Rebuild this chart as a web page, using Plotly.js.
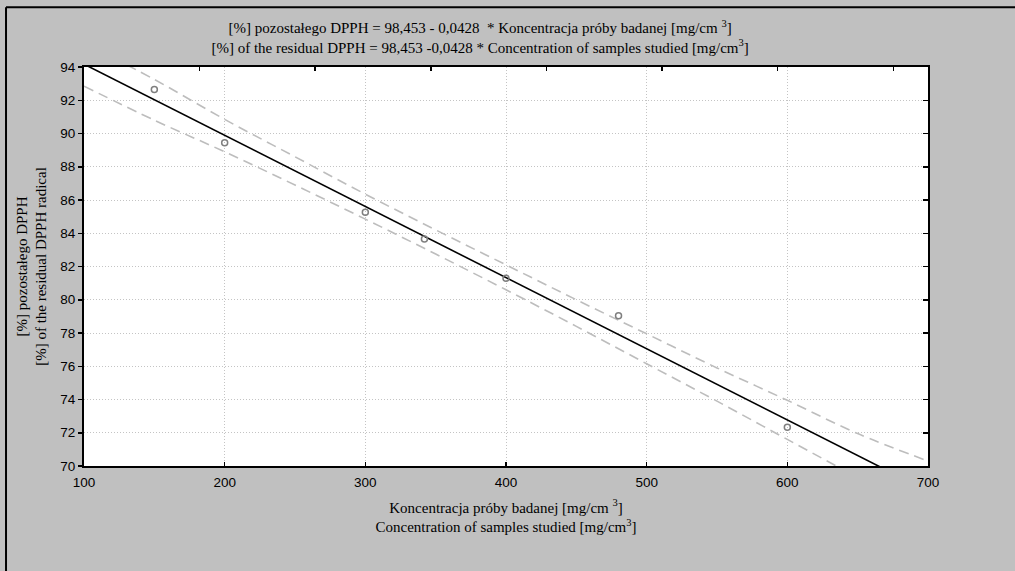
<!DOCTYPE html>
<html>
<head>
<meta charset="utf-8">
<script src="https://cdn.plot.ly/plotly-3.0.1.min.js"></script>
<style>html,body{margin:0;padding:0;background:#c0c0c0;}#chart{width:1015px;height:571px;}</style>
</head>
<body>
<div id="chart"></div>
<script>
// Observed data points
var concentration = [150, 200, 300, 342, 400, 480, 600];
var residualDPPH = [92.65, 89.44, 85.27, 83.65, 81.29, 79.04, 72.33];

// Regression line endpoints: y = 98.453 - 0.0428 x
var fitX = [100, 700];
var fitY = [94.17, 68.49];

// Confidence bands
var bandX = [100, 150, 200, 250, 300, 350, 400, 450, 500, 550, 600, 650, 700];
var bandUpper = [95.45, 93.25, 90.85, 88.6, 86.35, 84.2, 82.1, 80.0, 77.95, 75.9, 73.95, 71.95, 70.3];
var bandLower = [92.85, 90.8, 88.9, 86.9, 84.85, 82.75, 80.6, 78.4, 76.15, 73.9, 71.6, 69.3, 67.0];

var xTicks = [100, 200, 300, 400, 500, 600, 700];
var yTicks = [70, 72, 74, 76, 78, 80, 82, 84, 86, 88, 90, 92, 94];

var serif = 'Liberation Serif, Times New Roman, serif';
var sans = 'Liberation Sans, Arial, sans-serif';

var traces = [
  {x: bandX, y: bandUpper, mode: 'lines', line: {color: '#bdbdbd', width: 1.6, dash: '10px,6px', shape: 'spline'}, hoverinfo: 'skip'},
  {x: bandX, y: bandLower, mode: 'lines', line: {color: '#bdbdbd', width: 1.6, dash: '10px,6px', shape: 'spline'}, hoverinfo: 'skip'},
  {x: fitX, y: fitY, mode: 'lines', line: {color: '#000000', width: 1.6}},
  {x: concentration, y: residualDPPH, mode: 'markers', marker: {symbol: 'circle-open', size: 6, color: '#7f7f7f', line: {width: 1.5, color: '#7f7f7f'}}},
  {x: [], y: [], xaxis: 'x2', yaxis: 'y2', mode: 'markers', hoverinfo: 'skip'}
];

var layout = {
  width: 1015, height: 571,
  paper_bgcolor: '#c0c0c0',
  plot_bgcolor: '#ffffff',
  showlegend: false,
  margin: {l: 84, r: 87, t: 67, b: 105, pad: 0},
  title: {
    text: '[%] pozostałego DPPH = 98,453 - 0,0428  * Koncentracja próby badanej [mg/cm <sup>3</sup>]<br>[%] of the residual DPPH = 98,453 -0,0428 * Concentration of samples studied [mg/cm<sup>3</sup>]',
    font: {family: serif, size: 15, color: '#000'},
    xref: 'container', x: 0.473, xanchor: 'center',
    yref: 'paper', y: 1, yanchor: 'bottom', pad: {b: 34}
  },
  xaxis: {
    range: [100, 700], tickvals: xTicks, ticktext: xTicks.map(String),
    showline: true, linecolor: '#000', linewidth: 2, mirror: true,
    ticks: 'inside', ticklen: 4, tickwidth: 1.5, tickcolor: '#000',
    showgrid: true, gridcolor: '#c4c4c4', gridwidth: 1, griddash: '1px,2px',
    zeroline: false,
    tickfont: {family: sans, size: 13.5, color: '#000'},
    ticklabelstandoff: 3,
    title: {text: 'Koncentracja próby badanej [mg/cm <sup>3</sup>]<br>Concentration of samples studied [mg/cm<sup>3</sup>]', font: {family: serif, size: 15, color: '#000'}, standoff: 13}
  },
  yaxis: {
    range: [70, 94], tickvals: yTicks, ticktext: yTicks.map(String),
    showline: true, linecolor: '#000', linewidth: 2, mirror: true,
    ticks: 'outside', ticklen: 4, tickwidth: 1.5, tickcolor: '#000',
    showgrid: true, gridcolor: '#c4c4c4', gridwidth: 1, griddash: '1px,2px',
    zeroline: false,
    tickfont: {family: sans, size: 13.5, color: '#000'},
    title: {text: '[%] pozostałego DPPH<br>[%] of the residual DPPH radical', font: {family: serif, size: 15, color: '#000'}, standoff: 10}
  },
  xaxis2: {
    overlaying: 'x', side: 'top', range: [0, 7.3], dtick: 1, tick0: 0,
    ticks: 'inside', ticklen: 4, tickwidth: 1.5, tickcolor: '#000',
    showticklabels: false, showgrid: false, zeroline: false, showline: false
  },
  yaxis2: {
    overlaying: 'y', side: 'right', range: [70, 94], tickvals: yTicks,
    ticks: 'inside', ticklen: 5, tickwidth: 1.5, tickcolor: '#000',
    showticklabels: false, showgrid: false, zeroline: false, showline: false
  },
  shapes: [
    {type: 'line', xref: 'paper', yref: 'paper', x0: -0.0924, x1: -0.0924, y0: 1.150, y1: -0.4, line: {color: '#000', width: 2}},
    {type: 'line', xref: 'paper', yref: 'paper', x0: -0.0924, x1: 1.2, y0: 1.150, y1: 1.150, line: {color: '#000', width: 2}}
  ]
};

Plotly.newPlot('chart', traces, layout, {staticPlot: true, displayModeBar: false});
</script>
</body>
</html>
